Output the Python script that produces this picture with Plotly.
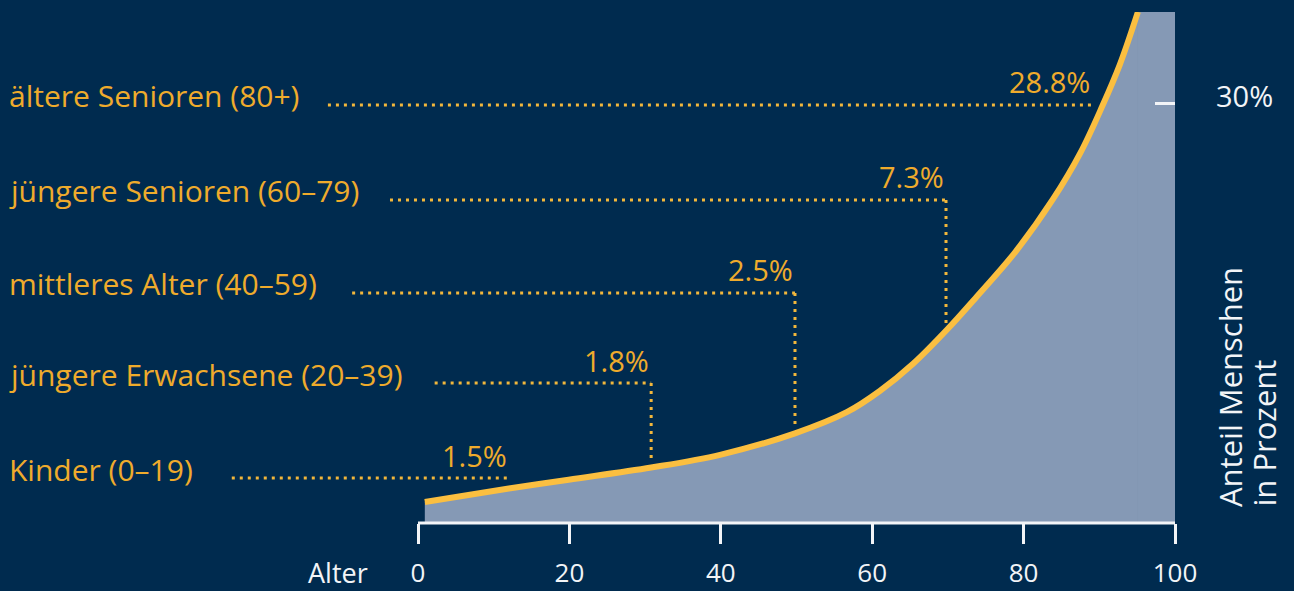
import plotly.graph_objects as go

# ---------------- data ----------------
# Age (years) along the curve and its displayed level (axis units, 30 = "30%" tick)
curve_age = [0.9, 12.0, 19.9, 30.8, 39.9, 49.8, 56.7, 61.0, 65.4, 69.9,
             73.8, 78.9, 83.9, 87.5, 90.4, 92.7, 95.1]
curve_level = [1.50, 2.47, 3.10, 3.97, 4.88, 6.42, 7.95, 9.45, 11.40, 13.85,
               16.20, 19.40, 23.20, 26.50, 29.85, 32.80, 36.59]

group_labels = ["ältere Senioren (80+)", "jüngere Senioren (60–79)",
                "mittleres Alter (40–59)", "jüngere Erwachsene (20–39)",
                "Kinder (0–19)"]
group_values = ["28.8%", "7.3%", "2.5%", "1.8%", "1.5%"]

age_ticks = [0, 20, 40, 60, 80, 100]
level_ticks = [30]
level_ticktext = ["30%"]

# ---------------- layout helpers (positions, not data) ----------------
leader_level = [29.93, 23.13, 16.47, 10.02, 3.22]
leader_start_age = [-11.9, -3.7, -8.7, 2.2, -24.6]
leader_end_age = [89.0, 69.75, 49.8, 30.8, 12.0]
leader_drop_to = [None, 14.32, 6.87, 4.51, None]

BG = "#002b4f"
FILL = "#8599b5"
CURVE = "#fbbf40"
ORANGE = "#efab2c"
DOT = "#f2b73c"
WHITE = "#f2f4f7"
FONT = "Open Sans"

W, H = 1294, 591
ML, MR, MT, MB = 0, 119, 12, 68
XMAX = 100
XMIN = -55.218
YMAX = 36.586

fig = go.Figure()

fig.add_trace(go.Scatter(
    x=curve_age, y=curve_level, mode="lines",
    line=dict(color=CURVE, width=6, shape="spline", smoothing=1.0),
    fill="tozeroy", fillcolor=FILL, hoverinfo="skip", showlegend=False,
))

shapes = []
# fill region to the right of the curve, up to the top of the plot
shapes.append(dict(type="rect", xref="x", yref="y", x0=curve_age[-1], x1=100,
                   y0=0, y1=YMAX, fillcolor=FILL,
                   line=dict(width=1.5, color=FILL), layer="below"))
# baseline axis line from 0 to 100
shapes.append(dict(type="line", xref="x", yref="paper", x0=0, x1=100,
                   y0=0, y1=0, line=dict(color=WHITE, width=3)))

annotations = []
for lab, val, ly, xs, xe, dd in zip(group_labels, group_values, leader_level,
                                    leader_start_age, leader_end_age,
                                    leader_drop_to):
    shapes.append(dict(type="line", xref="x", yref="y", x0=xs, x1=xe,
                       y0=ly, y1=ly,
                       line=dict(color=DOT, width=3, dash="3px,5px")))
    if dd is not None:
        shapes.append(dict(type="line", xref="x", yref="y", x0=xe, x1=xe,
                           y0=ly, y1=dd,
                           line=dict(color=DOT, width=3, dash="3px,5px")))
    annotations.append(dict(xref="paper", yref="y", x=7 / 1175, y=ly,
                            text=lab, showarrow=False, xanchor="left",
                            yanchor="middle", yshift=9,
                            font=dict(family=FONT, size=30, color=ORANGE)))
    annotations.append(dict(xref="x", yref="y", x=xe, y=ly, text=val,
                            showarrow=False, xanchor="right",
                            yanchor="middle", yshift=23,
                            font=dict(family=FONT, size=29, color=ORANGE)))

# "Alter" label
annotations.append(dict(xref="paper", yref="paper", x=370 / 1175,
                        y=(523 - 573) / 511, text="Alter", showarrow=False,
                        xanchor="right", yanchor="middle",
                        font=dict(family=FONT, size=27, color=WHITE)))
# vertical axis title (two lines, left aligned from the bottom)
for txt, cx in [("Anteil Menschen", 1230), ("in Prozent", 1263)]:
    annotations.append(dict(xref="paper", yref="paper", x=cx / 1175,
                            y=(523 - 509) / 511, text=txt, textangle=-90,
                            showarrow=False, xanchor="center",
                            yanchor="bottom",
                            font=dict(family=FONT, size=31, color=WHITE)))

fig.update_layout(
    width=W, height=H,
    margin=dict(l=ML, r=MR, t=MT, b=MB, pad=0, autoexpand=False),
    paper_bgcolor=BG, plot_bgcolor=BG,
    shapes=shapes, annotations=annotations,
    showlegend=False,
    xaxis=dict(range=[XMIN, XMAX], tickvals=age_ticks,
               ticktext=[str(t) for t in age_ticks],
               ticks="outside", ticklen=20, tickwidth=3, tickcolor=WHITE,
               ticklabelstandoff=7, automargin=False,
               tickfont=dict(family=FONT, size=26, color=WHITE),
               showgrid=False, zeroline=False, showline=False,
               fixedrange=True),
    yaxis=dict(range=[0, YMAX], side="right", tickvals=level_ticks,
               ticktext=level_ticktext, ticks="inside", ticklen=20,
               tickwidth=3, tickcolor=WHITE, ticklabelstandoff=40,
               ticklabelshift=-7, automargin=False,
               tickfont=dict(family=FONT, size=29, color=WHITE),
               showgrid=False, zeroline=False, showline=False,
               fixedrange=True),
)

fig.write_html(
    "out.html",
    config={"displayModeBar": False},
    post_script=("document.body.style.margin='0';"
                 "document.body.style.padding='0';"
                 "document.body.style.background='" + BG + "';"),
)
